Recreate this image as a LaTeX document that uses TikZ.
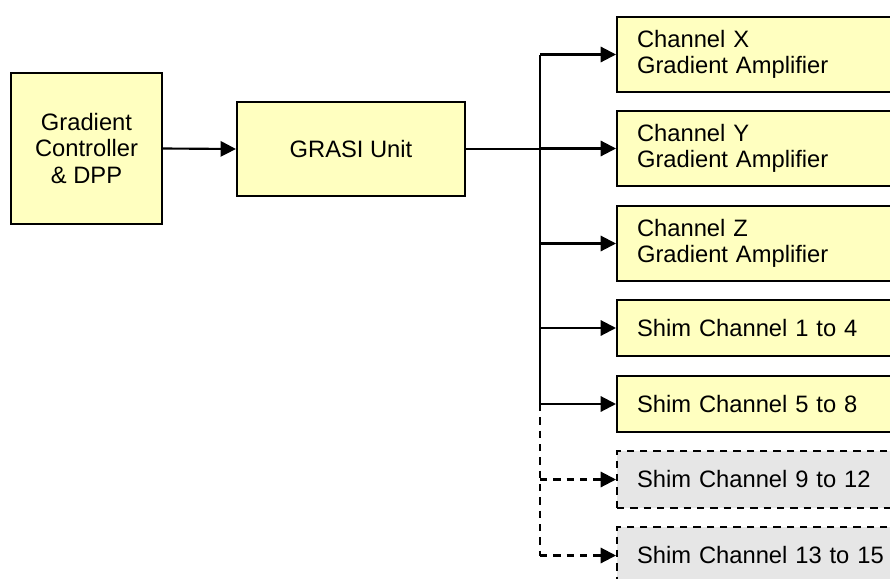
\documentclass[tikz,border=0pt]{standalone}
\usepackage{fontspec}
\setmainfont{Liberation Sans}
\usetikzlibrary{arrows.meta}
\definecolor{boxyellow}{RGB}{255,255,192}
\definecolor{boxgray}{RGB}{230,230,230}
\tikzset{
  box/.style={draw=black, line width=1.6pt, fill=boxyellow, inner sep=0pt,
    font=\fontsize{17.8}{19.8}\selectfont},
  optbox/.style={box, fill=boxgray, dash pattern=on 5.5pt off 4.5pt},
  chanbox/.style={box, anchor=west, minimum width=240pt, text width=210pt,
    align=left, inner xsep=15pt},
  link/.style={line width=1.6pt},
  arr/.style={link, -{Triangle[length=11.5pt,width=11.5pt]}},
  optlink/.style={link, dash pattern=on 5.5pt off 4.5pt},
}
\begin{document}
\begin{tikzpicture}[x=0.75pt,y=-0.75pt]
\useasboundingbox (0,0) rectangle (890,579);
\clip (0,0) rectangle (890,579);
\fill[white] (0,0) rectangle (890,579);

% controller and interface unit
\node[box, minimum width=113.25pt, minimum height=113.25pt, align=center]
  (ctrl) at (86.5,148.5) {Gradient\\Controller\\\& DPP};
\node[box, minimum width=171pt, minimum height=70.5pt]
  (grasi) at (351,149) {GRASI Unit};

% output channels
\node[chanbox, minimum height=56.25pt] (cx) at (616,54.5) {Channel X\\Gradient Amplifier};
\node[chanbox, minimum height=56.25pt] (cy) at (616,148.5) {Channel Y\\Gradient Amplifier};
\node[chanbox, minimum height=56.25pt] (cz) at (616,243.5) {Channel Z\\Gradient Amplifier};
\node[chanbox, minimum height=42pt] (s14) at (616,328) {Shim Channel 1 to 4};
\node[chanbox, minimum height=42pt] (s58) at (616,404) {Shim Channel 5 to 8};
\node[chanbox, optbox, minimum height=42.75pt] (s912) at (616,479.5) {Shim Channel 9 to 12};
\node[chanbox, optbox, minimum height=42.75pt] (s1315) at (616,555.5) {Shim Channel 13 to 15};

% distribution bus
\coordinate (bus) at (540,149);

\draw[arr] (ctrl.east) -- (grasi.west);
\draw[link] (grasi.east) -- (grasi.east -| bus);
\draw[link] (bus |- cx.west) -- (bus |- s58.west);
\draw[optlink] (bus |- s58.west) -- (bus |- s1315.west);

\foreach \n in {cx,cy,cz,s14,s58}
  \draw[arr] (bus |- \n.west) -- (\n.west);
\foreach \n in {s912,s1315}
  \draw[arr, dash pattern=on 5.5pt off 4.5pt] (bus |- \n.west) -- (\n.west);
\end{tikzpicture}
\end{document}
